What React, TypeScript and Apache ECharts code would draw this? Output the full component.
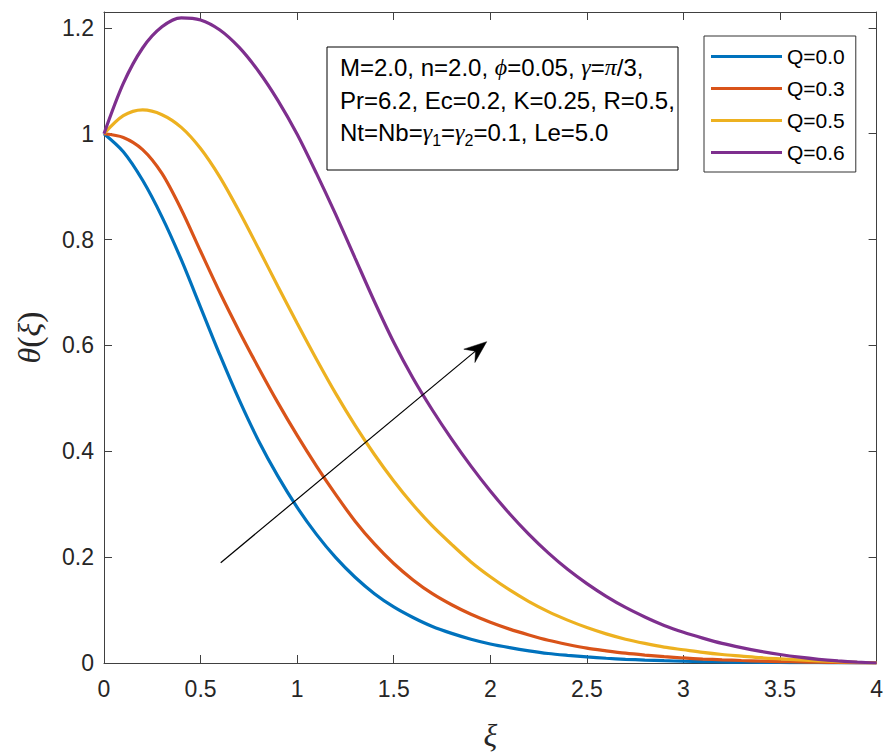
import React, { useEffect, useRef } from 'react';
import * as echarts from 'echarts';

const xi = [0, 0.1, 0.2, 0.3, 0.4, 0.5, 0.6, 0.7, 0.8, 0.9, 1.0, 1.1, 1.2, 1.3, 1.4, 1.5, 1.6, 1.7, 1.8, 1.9, 2.0, 2.1, 2.2, 2.3, 2.4, 2.5, 2.6, 2.7, 2.8, 2.9, 3.0, 3.1, 3.2, 3.3, 3.4, 3.5, 3.6, 3.7, 3.8, 3.9, 4.0];
const thetaQ00 = [1.000, 0.966, 0.912, 0.843, 0.762, 0.672, 0.582, 0.497, 0.420, 0.353, 0.294, 0.243, 0.199, 0.162, 0.131, 0.106, 0.086, 0.069, 0.056, 0.045, 0.036, 0.029, 0.023, 0.018, 0.0145, 0.0115, 0.009, 0.007, 0.0055, 0.0043, 0.0034, 0.0027, 0.0021, 0.0016, 0.0012, 0.0009, 0.0007, 0.0005, 0.0003, 0.00015, 0];
const thetaQ03 = [1.000, 0.993, 0.970, 0.925, 0.857, 0.778, 0.700, 0.627, 0.558, 0.492, 0.430, 0.372, 0.318, 0.268, 0.225, 0.188, 0.157, 0.131, 0.110, 0.092, 0.077, 0.064, 0.053, 0.043, 0.035, 0.028, 0.023, 0.0185, 0.015, 0.012, 0.0095, 0.0075, 0.006, 0.0047, 0.0036, 0.0027, 0.002, 0.0014, 0.0009, 0.0004, 0];
const thetaQ05 = [1.000, 1.034, 1.045, 1.036, 1.012, 0.972, 0.918, 0.853, 0.783, 0.712, 0.642, 0.574, 0.509, 0.449, 0.394, 0.344, 0.299, 0.259, 0.224, 0.191, 0.163, 0.138, 0.116, 0.097, 0.081, 0.067, 0.055, 0.045, 0.037, 0.030, 0.025, 0.020, 0.016, 0.013, 0.010, 0.0078, 0.0058, 0.0041, 0.0026, 0.0012, 0];
const thetaQ06 = [1.000, 1.095, 1.162, 1.202, 1.219, 1.215, 1.196, 1.163, 1.118, 1.063, 0.999, 0.925, 0.847, 0.765, 0.683, 0.606, 0.538, 0.478, 0.423, 0.372, 0.325, 0.282, 0.243, 0.208, 0.177, 0.150, 0.126, 0.105, 0.087, 0.071, 0.058, 0.047, 0.037, 0.029, 0.022, 0.016, 0.011, 0.007, 0.004, 0.0017, 0];

const seriesNames = ['Q=0.0', 'Q=0.3', 'Q=0.5', 'Q=0.6'];
const seriesValues = [thetaQ00, thetaQ03, thetaQ05, thetaQ06];
const seriesColors = ['#0072BD', '#D95319', '#EDB120', '#7E2F8E'];

const xMin = 0;
const xMax = 4;
const xStep = 0.5;
const yMin = 0;
const yMax = 1.23;
const yStep = 0.2;

const infoLines = [
  '{a|M=2.0, n=2.0, }{g|ϕ}{a|=0.05, }{g|γ}{a|=}{p|π}{a|/3,}',
  '{a|Pr=6.2, Ec=0.2, K=0.25, R=0.5,}',
  '{a|Nt=Nb=}{g|γ}{s|1}{a|=}{g|γ}{s|2}{a|=0.1, Le=5.0}',
];

const AXIS = '#404040';
const LABEL = '#262626';
const SANS = '"Liberation Sans", Arial, Helvetica, sans-serif';
const SERIF = '"Liberation Serif", "Times New Roman", serif';

export default function App() {
  const ref = useRef<HTMLDivElement>(null);
  useEffect(() => {
    if (!ref.current) return;
    const chart = echarts.init(ref.current, undefined, { renderer: 'svg' });
    const richStyles = {
      a: { fontSize: 24, fontFamily: SANS, color: '#000' },
      g: { fontSize: 24, fontFamily: SERIF, fontStyle: 'italic', color: '#000' },
      p: { fontSize: 24, fontFamily: SERIF, fontStyle: 'italic', color: '#000' },
      s: { fontSize: 16, fontFamily: SANS, color: '#000', padding: [16, 0, 0, 0] },
    };
    const baseAxis = {
      type: 'value',
      splitLine: { show: false },
      axisLine: { show: true, onZero: false, lineStyle: { color: AXIS, width: 1 } },
      axisTick: { show: true, inside: true, length: 8, lineStyle: { color: AXIS, width: 1 } },
    };
    const option: any = {
      animation: false,
      backgroundColor: '#fff',
      grid: { left: 104, top: 12, width: 774, height: 655, containLabel: false },
      legend: {
        orient: 'vertical',
        left: 704,
        top: 36,
        padding: [10, 11, 9, 7],
        icon: 'rect',
        itemWidth: 71,
        itemHeight: 3,
        itemGap: 11,
        backgroundColor: '#fff',
        borderColor: '#333',
        borderWidth: 1,
        borderRadius: 0,
        textStyle: { fontSize: 21, fontFamily: SANS, color: '#000' },
        data: seriesNames,
      },
      xAxis: [
        {
          ...baseAxis,
          position: 'bottom',
          min: xMin,
          max: xMax,
          interval: xStep,
          axisLabel: { margin: 14, fontSize: 23, fontFamily: SANS, color: LABEL },
          name: 'ξ',
          nameLocation: 'middle',
          nameGap: 56,
          nameTextStyle: { fontSize: 32, fontFamily: SERIF, fontStyle: 'italic', color: LABEL },
        },
        {
          ...baseAxis,
          position: 'top',
          min: xMin,
          max: xMax,
          interval: xStep,
          axisLabel: { show: false },
        },
      ],
      yAxis: [
        {
          ...baseAxis,
          position: 'left',
          min: yMin,
          max: yMax,
          interval: yStep,
          axisLabel: { margin: 10, fontSize: 23, fontFamily: SANS, color: LABEL, showMaxLabel: false },
          name: '{i|θ}{r|(}{i|ξ}{r|)}',
          nameLocation: 'middle',
          nameGap: 58,
          nameTextStyle: {
            fontSize: 32,
            color: LABEL,
            rich: {
              i: { fontSize: 32, fontFamily: SERIF, fontStyle: 'italic', color: LABEL },
              r: { fontSize: 34, fontFamily: SERIF, color: LABEL },
            },
          },
        },
        {
          ...baseAxis,
          position: 'right',
          min: yMin,
          max: yMax,
          interval: yStep,
          axisLabel: { show: false },
        },
      ],
      series: seriesNames.map((name, k) => ({
        name,
        type: 'line',
        xAxisIndex: 0,
        yAxisIndex: 0,
        data: xi.map((x, i) => [x, seriesValues[k][i]]),
        showSymbol: false,
        symbol: 'none',
        smooth: 0.3,
        color: seriesColors[k],
        lineStyle: { color: seriesColors[k], width: 3.2 },
        z: 2 + k,
      })),
      graphic: [
        {
          type: 'rect',
          shape: { x: 327, y: 47, width: 351, height: 123 },
          style: { fill: '#fff', stroke: '#000', lineWidth: 1 },
          z: 10,
        },
        ...infoLines.map((t, i) => ({
          type: 'text',
          x: 340,
          y: [67, 100, 132][i],
          z: 11,
          style: { text: t, rich: richStyles, verticalAlign: 'middle', align: 'left' },
        })),
        {
          type: 'line',
          shape: { x1: 220.7, y1: 562.7, x2: 476, y2: 350.6 },
          style: { stroke: '#000', lineWidth: 1.2 },
          z: 12,
        },
        {
          type: 'polygon',
          shape: { points: [[486.7, 341.7], [474.9, 362.5], [475.5, 351.2], [463.8, 349.2]] },
          style: { fill: '#000', stroke: '#000', lineWidth: 0.5 },
          z: 12,
        },
      ],
    };
    chart.setOption(option);
    return () => chart.dispose();
  }, []);
  return <div ref={ref} style={{ width: 886, height: 756, position: 'absolute', left: 0, top: 0 }} />;
}
